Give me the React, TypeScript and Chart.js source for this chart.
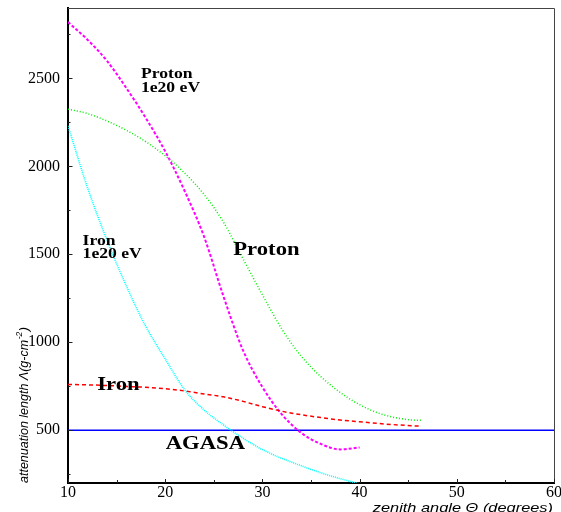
import React, { useEffect, useRef } from "react";
import { Chart, registerables } from "chart.js";

Chart.register(...registerables);

// ---- data (zenith angle in degrees, attenuation length in g/cm^2) ----
const protonHiAngles = [10, 12, 14, 16, 18, 20, 22, 24, 26, 28, 30, 32, 34, 36, 38, 40];
const protonHiLength = [2820, 2720, 2600, 2445, 2275, 2085, 1860, 1600, 1260, 955, 745, 590, 485, 422, 391, 402];

const protonAngles = [10, 12, 14, 16, 18, 20, 22, 24, 26, 28, 30, 32, 34, 36, 38, 40, 42, 44, 46, 46.5];
const protonLength = [2325, 2300, 2258, 2205, 2140, 2060, 1962, 1840, 1682, 1475, 1270, 1075, 920, 805, 715, 645, 596, 568, 557, 557];

const ironHiAngles = [10, 12, 14, 16, 18, 20, 22, 24, 26, 28, 30, 32, 34, 36, 38, 40];
const ironHiLength = [2230, 1880, 1582, 1320, 1090, 905, 730, 615, 530, 455, 390, 340, 298, 258, 225, 195];

const ironAngles = [10, 12, 14, 16, 18, 20, 22, 24, 26, 28, 30, 32, 34, 36, 38, 40, 42, 44, 46.2];
const ironLength = [760, 758, 754, 749, 744, 736, 723, 706, 690, 664, 634, 608, 588, 572, 558, 548, 538, 530, 523];

const agasaAngles = [10, 60];
const agasaLength = [500, 500];

const xTickValues = [10, 15, 20, 25, 30, 35, 40, 45, 50, 55, 60];
const yTickValues = [250, 500, 750, 1000, 1250, 1500, 1750, 2000, 2250, 2500, 2750];

const xAxisTitle = "zenith angle \u0398 (degrees)";
const yAxisTitleMain = "attenuation length \u039B(g-cm";
const yAxisTitleSup = "-2";
const yAxisTitleEnd = ")";

const annotations = [
  { lines: ["Proton", "1e20 eV"], x: 17.5, y: 2500, size: 14 },
  { lines: ["Iron", "1e20 eV"], x: 11.5, y: 1555, size: 14 },
  { lines: ["Proton"], x: 27.0, y: 1497, size: 18 },
  { lines: ["Iron"], x: 13.0, y: 728, size: 18 },
  { lines: ["AGASA"], x: 20.05, y: 396, size: 18 },
];

const pts = (xs: number[], ys: number[]) => xs.map((x, i) => ({ x, y: ys[i] }));

const STRETCH = 1.26;

const decorPlugin = {
  id: "decor",
  afterDraw(chart: any) {
    const ctx = chart.ctx as CanvasRenderingContext2D;
    const area = chart.chartArea;
    const xs = chart.scales.x;
    const ys = chart.scales.y;
    ctx.save();
    // top and right frame lines
    ctx.strokeStyle = "#444";
    ctx.lineWidth = 1;
    ctx.beginPath();
    ctx.moveTo(area.left, area.top + 0.5);
    ctx.lineTo(area.right + 0.5, area.top + 0.5);
    ctx.lineTo(area.right + 0.5, area.bottom);
    ctx.stroke();

    // inward tick marks
    ctx.strokeStyle = "#222";
    ctx.lineWidth = 1;
    ctx.beginPath();
    xs.ticks.forEach((t: any) => {
      const px = Math.round(xs.getPixelForValue(t.value)) + 0.5;
      const len = t.value % 10 === 0 ? 4 : 3;
      ctx.moveTo(px, area.bottom);
      ctx.lineTo(px, area.bottom - len);
    });
    ys.ticks.forEach((t: any) => {
      const py = Math.round(ys.getPixelForValue(t.value)) + 0.5;
      const len = t.value % 500 === 0 ? 4.5 : 2.5;
      ctx.moveTo(area.left, py);
      ctx.lineTo(area.left + len, py);
    });
    ctx.stroke();

    // annotations
    ctx.fillStyle = "#000";
    ctx.textBaseline = "alphabetic";
    ctx.textAlign = "left";
    annotations.forEach((a) => {
      const px = xs.getPixelForValue(a.x);
      const py = ys.getPixelForValue(a.y);
      ctx.font = `bold ${a.size}px "Liberation Serif", "Times New Roman", serif`;
      a.lines.forEach((line, i) => {
        ctx.save();
        ctx.translate(px, py + i * (a.size * 0.98));
        ctx.scale(STRETCH, 1);
        ctx.fillText(line, 0, 0);
        ctx.restore();
      });
    });

    // x axis title
    ctx.save();
    ctx.font = 'italic 13px "Liberation Sans", Arial, sans-serif';
    ctx.textAlign = "right";
    ctx.translate(area.right - 1, 511.5);
    ctx.scale(STRETCH, 1);
    ctx.fillText(xAxisTitle, 0, 0);
    ctx.restore();

    // y axis title (rotated, with superscript)
    ctx.save();
    ctx.translate(27.5, area.bottom);
    ctx.rotate(-Math.PI / 2);
    ctx.textAlign = "left";
    ctx.font = 'italic 12.5px "Liberation Sans", Arial, sans-serif';
    ctx.fillText(yAxisTitleMain, 0, 0);
    let w = ctx.measureText(yAxisTitleMain).width;
    ctx.font = 'italic 8.5px "Liberation Sans", Arial, sans-serif';
    ctx.fillText(yAxisTitleSup, w + 0.5, -5.5);
    w += ctx.measureText(yAxisTitleSup).width + 1;
    ctx.font = 'italic 12.5px "Liberation Sans", Arial, sans-serif';
    ctx.fillText(yAxisTitleEnd, w, 0);
    ctx.restore();

    ctx.restore();
  },
};

export default function App() {
  const canvasRef = useRef<HTMLCanvasElement | null>(null);

  useEffect(() => {
    const canvas = canvasRef.current;
    if (!canvas) return;
    const common = {
      pointRadius: 0,
      pointHoverRadius: 0,
      fill: false,
      cubicInterpolationMode: "monotone" as const,
    };
    const chart = new Chart(canvas, {
      type: "line",
      data: {
        datasets: [
          {
            ...common,
            label: "Iron",
            data: pts(ironAngles, ironLength),
            borderColor: "#ff0000",
            borderWidth: 1.5,
            borderDash: [4, 3],
          },
          {
            ...common,
            label: "Iron 1e20 eV",
            data: pts(ironHiAngles, ironHiLength),
            borderColor: "#00ffff",
            borderWidth: 1.6,
            borderDash: [1, 1],
          },
          {
            ...common,
            label: "Proton",
            data: pts(protonAngles, protonLength),
            borderColor: "#00ee00",
            borderWidth: 1.5,
            borderDash: [1, 2],
          },
          {
            ...common,
            label: "Proton 1e20 eV",
            data: pts(protonHiAngles, protonHiLength),
            borderColor: "#ff00ff",
            borderWidth: 2,
            borderDash: [3, 2],
          },
          {
            ...common,
            label: "AGASA",
            data: pts(agasaAngles, agasaLength),
            borderColor: "#0000ff",
            borderWidth: 1.5,
            cubicInterpolationMode: "default" as const,
          },
        ],
      },
      options: {
        responsive: false,
        maintainAspectRatio: false,
        animation: false,
        devicePixelRatio: 1,
        layout: { padding: { top: 8, right: 7, left: 0, bottom: 0 } },
        plugins: {
          legend: { display: false },
          tooltip: { enabled: false },
        },
        events: [],
        scales: {
          x: {
            type: "linear",
            min: 10,
            max: 60,
            afterBuildTicks: (s: any) => {
              s.ticks = xTickValues.map((v) => ({ value: v }));
            },
            afterFit: (s: any) => {
              s.height = 29;
              s.paddingLeft = 0;
              s.paddingRight = 0;
            },
            ticks: {
              autoSkip: false,
              maxRotation: 0,
              padding: 0,
              color: "#000",
              font: { family: '"Liberation Serif", "Times New Roman", serif', size: 16 },
              callback: (v: any) => (Number(v) % 10 === 0 ? String(v) : ""),
            },
            grid: { display: true, drawOnChartArea: false, drawTicks: false },
            border: { display: true, color: "#000", width: 2 },
          },
          y: {
            type: "linear",
            min: 200,
            max: 2900,
            afterBuildTicks: (s: any) => {
              s.ticks = yTickValues.map((v) => ({ value: v }));
            },
            afterFit: (s: any) => {
              s.width = 68;
              s.paddingTop = 0;
              s.paddingBottom = 0;
            },
            ticks: {
              autoSkip: false,
              padding: 8,
              color: "#000",
              font: { family: '"Liberation Serif", "Times New Roman", serif', size: 16 },
              callback: (v: any) => (Number(v) % 500 === 0 ? String(v) : ""),
            },
            grid: { display: true, drawOnChartArea: false, drawTicks: false },
            border: { display: true, color: "#000", width: 2 },
          },
        },
      },
      plugins: [decorPlugin],
    });
    return () => chart.destroy();
  }, []);

  return (
    <div style={{ position: "absolute", left: 0, top: 0, width: 561, height: 512, background: "#fff" }}>
      <canvas ref={canvasRef} width={561} height={512} style={{ display: "block" }} />
    </div>
  );
}
